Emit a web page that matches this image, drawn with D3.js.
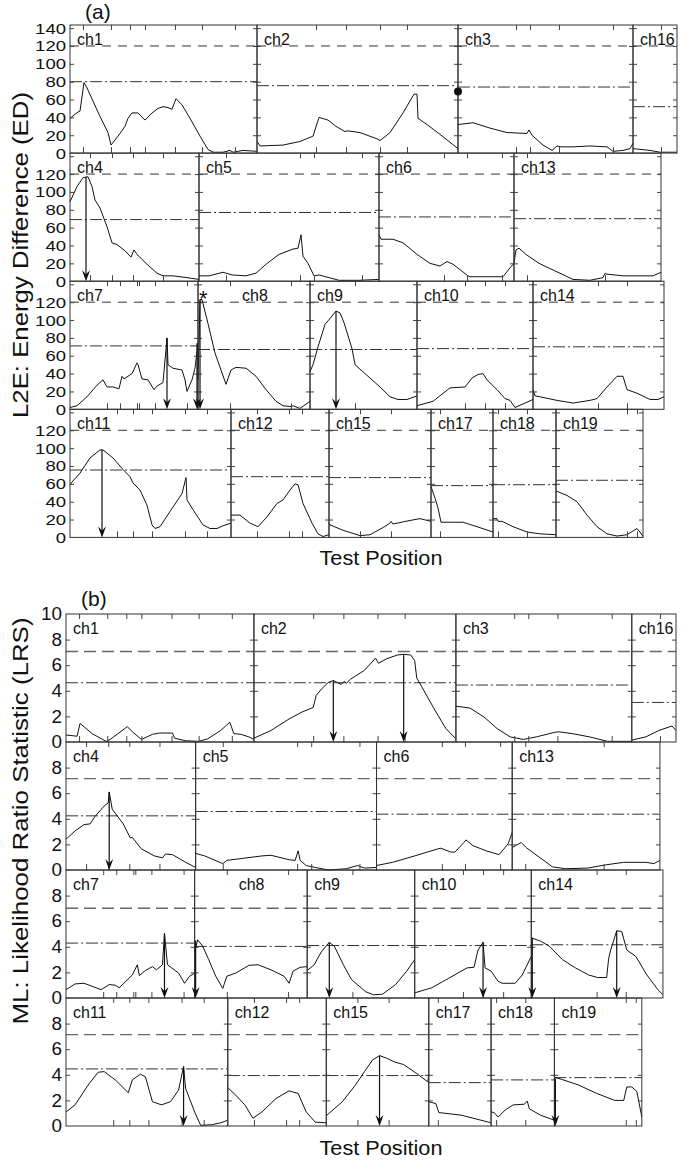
<!DOCTYPE html>
<html>
<head>
<meta charset="utf-8">
<script src="https://cdn.jsdelivr.net/npm/d3@7"></script>
<style>
body { margin: 0; background: #fff; }
svg text { font-family: Arial, "Liberation Sans", sans-serif; fill: #111; }
</style>
</head>
<body>
<script>
// chromosomes in the order they are laid out, row by row
var chromNames = ["ch1","ch2","ch3","ch16","ch4","ch5","ch6","ch13","ch7","ch8","ch9","ch10","ch14","ch11","ch12","ch15","ch17","ch18","ch19"];
var chromLengths = [187,201,175,44,129,180,135,147,128,112,107,116,131,161,98,102,62,63,87];
var rowSizes = [4,4,5,6];
var markerPositions = [[13,41,60,75,105,132,165],[59,89,123,150],[58,72,101,155],[28],[20,42,63,93],[27,101,115,163],[65,88,123],[13,91],[37,50,67,69,85,117],[32,93],[45],[48,68,88],[65,94],[47,63,82,115,137],[26,58,71],[31,62],[9],[5,34],[71,81]];

// tick labels
var edTicksTop = [0,20,40,60,80,100,120,140];
var edTicks = [0,20,40,60,80,100,120];
var lrsTicksTop = [0,2,4,6,8,10];
var lrsTicks = [0,2,4,6,8];

// thresholds (dashed / dash-dot) per chromosome
var edDashed = [120,120,120,120,120,120,120,120,120,120,120,120,120,120,120,120,120,120,120];
var edDashDot = [80,75.5,74,52,69,77,72,70,71,67,67,68,70,75.5,68,67,58,59,64];
var lrsDashed = [7.07,7.07,7.07,7.07,7.14,7.14,7.14,7.14,7.01,7.01,7.01,7.01,7.01,7.14,7.14,7.14,7.14,7.14,7.14];
var lrsDashDot = [4.63,4.63,4.45,3.09,4.23,4.57,4.36,4.36,4.29,4.03,4.1,4.1,4.16,4.46,3.94,3.94,3.39,3.6,3.78];

// (a) L2E energy difference curves: [position, ED]
var edCh1 = [[0,39],[8,46],[10,47],[14,79],[17,73],[30,41],[38,23],[41,9],[48,19],[55,30],[58,39],[62,45],[68,45],[75,37],[82,45],[88,50],[93,52],[98,51],[102,49],[106,61],[112,54],[120,39],[130,19],[138,4],[143,1],[153,1],[160,3],[163,1],[173,3],[187,2]];
var edCh2 = [[0,13],[3,8],[26,9],[43,13],[56,19],[62,40],[71,37],[79,30],[88,24],[90,25],[103,23],[120,16],[123,14],[133,23],[146,45],[157,66],[160,66],[161,39],[170,32],[183,21],[201,5]];
var edCh3 = [[0,32],[15,34],[32,28],[49,23],[69,22],[71,26],[74,20],[85,9],[94,3],[99,8],[103,7],[115,7],[132,8],[149,7],[155,2],[165,3],[172,5],[175,11]];
var edCh16 = [[0,5],[17,3],[27,1],[44,1]];
var edCh4 = [[0,89],[7,106],[13,116],[18,117],[22,106],[25,91],[30,82],[37,61],[42,43],[47,41],[55,34],[61,27],[64,35],[67,30],[77,19],[87,9],[93,6],[103,6],[117,4],[129,2]];
var edCh5 = [[0,6],[10,6],[24,10],[33,7],[47,6],[57,9],[67,19],[80,30],[94,36],[99,37],[102,52],[104,28],[109,20],[115,6],[120,7],[130,4],[140,1],[160,1],[180,2]];
var edCh6 = [[0,52],[2,47],[14,47],[24,43],[38,30],[51,20],[61,17],[68,22],[74,19],[89,6],[91,5],[108,5],[124,5],[131,15],[135,20]];
var edCh13 = [[0,20],[2,35],[5,37],[12,30],[25,20],[42,11],[59,2],[76,1],[89,4],[91,9],[92,8],[109,6],[126,6],[139,6],[147,10]];
var edCh7 = [[0,2],[7,4],[17,14],[27,27],[33,33],[37,25],[43,25],[49,23],[52,37],[54,34],[62,40],[67,52],[68,50],[72,34],[78,33],[84,22],[87,26],[93,30],[97,80],[98,50],[103,46],[112,44],[115,33],[117,20],[122,33],[125,46],[128,74]];
var edCh8 = [[0,33],[2,123],[4,123],[10,96],[17,63],[23,44],[28,28],[33,44],[38,47],[48,46],[58,37],[68,22],[78,9],[85,4],[93,3],[95,4],[102,1],[107,5],[112,9]];
var edCh9 = [[0,42],[3,50],[8,70],[15,95],[26,110],[30,108],[34,97],[42,68],[45,50],[57,38],[70,25],[80,14],[88,11],[97,11],[107,15]];
var edCh10 = [[0,4],[16,9],[33,24],[48,25],[55,35],[61,39],[66,40],[70,33],[80,22],[88,12],[93,10],[98,2],[106,6],[116,11]];
var edCh14 = [[0,22],[2,15],[7,14],[24,10],[40,7],[57,10],[64,12],[74,25],[84,37],[90,37],[94,22],[104,18],[117,11],[125,11],[131,14]];
var edCh11 = [[0,59],[2,62],[10,72],[20,89],[30,98],[33,98],[43,89],[53,76],[60,68],[63,61],[70,53],[77,36],[82,14],[85,10],[90,12],[100,29],[112,49],[116,67],[117,42],[123,31],[133,14],[140,10],[147,10],[153,13],[161,16]];
var edCh12 = [[0,25],[9,25],[19,16],[27,12],[36,23],[46,38],[52,42],[59,53],[64,60],[67,59],[72,38],[81,16],[87,4],[92,1],[98,3]];
var edCh15 = [[0,16],[1,14],[14,8],[31,2],[41,3],[54,11],[61,16],[62,18],[64,15],[81,19],[91,21],[102,18]];
var edCh17 = [[0,57],[4,44],[7,33],[10,17],[12,17],[32,17],[46,12],[62,6]];
var edCh18 = [[0,21],[4,21],[5,18],[9,18],[20,12],[34,6],[47,4],[63,3]];
var edCh19 = [[0,52],[11,47],[21,40],[31,25],[41,12],[51,4],[61,1.5],[71,3],[81,10],[84,6],[87,1]];

// (b) ML likelihood ratio statistic curves: [position, LRS]
var lrsCh1 = [[0,0.55],[11,0.45],[14,1.45],[26,0.65],[40,0.05],[44,0.2],[61,1.2],[66,0.8],[75,0.2],[86,0.6],[93,0.7],[106,0.7],[108,0.3],[119,0.1],[132,0.05],[141,0.25],[154,0.9],[163,1.55],[167,0.65],[174,0.6],[182,0.4],[187,0.2]];
var lrsCh2 = [[0,0.3],[17,0.9],[35,1.8],[48,2.35],[59,2.7],[62,3.65],[68,4.2],[74,4.65],[79,4.8],[83,4.65],[87,4.5],[90,4.75],[92,4.6],[96,4.9],[110,5.6],[121,6.55],[124,6.15],[132,6.5],[143,6.8],[149,6.85],[156,6.8],[160,6.35],[162,5.0],[165,4.6],[180,2.5],[191,1.05],[201,0.25]];
var lrsCh3 = [[0,2.8],[14,2.65],[28,1.95],[41,1.05],[54,0.4],[67,0.2],[80,0.4],[98,0.75],[102,0.8],[116,0.65],[133,0.4],[151,0.05],[175,0.05]];
var lrsCh16 = [[0,0.15],[14,0.4],[27,0.9],[40,1.25],[44,0.9]];
var lrsCh4 = [[0,2.4],[9,3.05],[18,3.55],[24,3.6],[29,4.2],[38,5.0],[42,5.25],[43,6.1],[46,4.75],[57,3.6],[64,2.5],[66,2.55],[75,1.65],[88,1.1],[96,0.95],[99,1.25],[106,1.2],[119,0.6],[129,0.2]];
var lrsCh5 = [[0,1.3],[9,1.1],[27,0.5],[31,0.75],[66,1.1],[75,1.15],[93,0.8],[99,0.75],[102,1.5],[104,0.75],[110,0.35],[119,0.2],[132,0],[150,0.1],[161,0.35],[168,0.15],[180,0.2]];
var lrsCh6 = [[0,0.35],[16,0.6],[38,1.1],[61,1.65],[64,1.7],[74,1.4],[78,1.4],[87,2.15],[89,2.35],[96,1.9],[109,1.5],[122,1.2],[131,2.05],[135,2.95]];
var lrsCh13 = [[0,1.75],[9,2.15],[14,1.75],[27,1.0],[40,0.25],[53,0.1],[75,0.15],[93,0.4],[111,0.6],[133,0.6],[141,0.5],[147,0.75]];
var lrsCh7 = [[0,0.65],[9,1.1],[18,1.15],[35,0.65],[43,1.05],[49,1.0],[53,0.8],[66,1.8],[71,2.6],[73,1.75],[79,2.15],[86,2.45],[90,2.2],[96,2.6],[98,5.05],[101,2.6],[112,1.95],[118,1.15],[123,1.7],[128,1.95]];
var lrsCh8 = [[0,3.6],[3,4.55],[8,4.05],[14,3.0],[21,1.7],[28,0.75],[32,1.7],[41,1.95],[54,2.55],[63,2.6],[76,2.2],[89,1.7],[94,1.15],[98,2.1],[105,2.4],[112,2.45]];
var lrsCh9 = [[0,2.15],[7,2.6],[14,3.6],[22,4.35],[27,4.05],[36,2.6],[44,1.45],[58,0.5],[66,0.25],[75,0.3],[88,1.05],[99,2.1],[107,3.0]];
var lrsCh10 = [[0,0.4],[17,0.8],[34,1.55],[52,2.35],[59,2.4],[63,3.75],[68,4.35],[70,2.35],[76,2.1],[83,1.3],[87,1.15],[100,1.15],[107,1.8],[116,3.25]];
var lrsCh14 = [[0,4.7],[9,4.45],[18,4.05],[31,3.0],[44,2.35],[57,1.8],[66,1.6],[75,1.6],[77,3.1],[79,3.75],[85,5.25],[90,5.2],[95,3.75],[104,3.25],[115,1.8],[126,0.65],[131,0.25]];
var lrsCh11 = [[0,1.1],[9,1.65],[22,3.2],[32,4.2],[38,4.25],[49,3.6],[62,2.6],[66,3.6],[74,4.05],[79,3.85],[86,1.9],[95,1.65],[104,1.9],[112,2.8],[117,4.65],[119,2.95],[128,1.1],[134,0.05],[145,0.1],[154,0.25],[161,0.45]];
var lrsCh12 = [[0,3.0],[8,2.4],[17,1.65],[25,0.6],[34,1.1],[48,2.15],[61,2.75],[65,2.65],[70,2.55],[78,1.1],[87,0.3],[98,0.25]];
var lrsCh15 = [[0,0.8],[16,1.9],[29,3.2],[38,4.25],[46,5.15],[53,5.5],[60,5.3],[68,5.0],[77,4.8],[90,4.1],[101,3.45],[102,4.0]];
var lrsCh17 = [[0,1.9],[7,1.75],[10,1.05],[32,0.85],[62,0.25]];
var lrsCh18 = [[0,1.1],[3,1.05],[7,0.7],[14,1.25],[22,1.65],[33,1.7],[36,1.95],[38,1.35],[49,0.85],[63,0.45]];
var lrsCh19 = [[0,3.8],[7,3.65],[24,3.2],[42,2.55],[60,2.0],[69,2.0],[72,3.05],[77,3.05],[82,2.7],[87,0.7]];

// QTL arrows: [chromosome, position, value at arrow top]
var edArrows = [["ch4",16,117],["ch7",97,80],["ch7",127,74],["ch8",2,123],["ch9",26,110],["ch11",32,98]];
var lrsArrows = [["ch2",79,4.8],["ch2",149,6.85],["ch4",43,6.1],["ch7",98,5.05],["ch8",1,4.5],["ch9",22,4.35],["ch10",68,4.35],["ch14",1,4.7],["ch14",85,5.25],["ch11",117,4.65],["ch15",53,5.5],["ch19",1,3.7]];

var edCurves = [edCh1,edCh2,edCh3,edCh16,edCh4,edCh5,edCh6,edCh13,edCh7,edCh8,edCh9,edCh10,edCh14,edCh11,edCh12,edCh15,edCh17,edCh18,edCh19];
var lrsCurves = [lrsCh1,lrsCh2,lrsCh3,lrsCh16,lrsCh4,lrsCh5,lrsCh6,lrsCh13,lrsCh7,lrsCh8,lrsCh9,lrsCh10,lrsCh14,lrsCh11,lrsCh12,lrsCh15,lrsCh17,lrsCh18,lrsCh19];

var svg = d3.select("body").append("svg")
    .attr("width", 685)
    .attr("height", 1161);

function drawPanel(p) {
    var unit = (p.right - p.left) / d3.sum(chromLengths.slice(0, rowSizes[0]));
    var idx = 0;
    var xScales = {}, yScales = {};

    rowSizes.forEach(function(n, r) {
        var rowTop = p.top + r * p.rowH;
        var y = d3.scaleLinear().domain([0, p.yMax]).range([rowTop + p.rowH, rowTop]);
        var cum = 0;

        for (var k = 0; k < n; k++, idx++) {
            var name = chromNames[idx], len = chromLengths[idx];
            var x = d3.scaleLinear().domain([0, len])
                .range([p.left + cum * unit, p.left + (cum + len) * unit]);
            cum += len;
            xScales[name] = x;
            yScales[name] = y;
            var g = svg.append("g");

            // thresholds
            g.append("line")
                .attr("x1", x(0)).attr("x2", x(len))
                .attr("y1", y(p.dashed[idx])).attr("y2", y(p.dashed[idx]))
                .style("stroke", p.dashColor).style("stroke-width", p.dashWidth)
                .style("stroke-dasharray", p.dashPattern);
            g.append("line")
                .attr("x1", x(0)).attr("x2", x(len))
                .attr("y1", y(p.dashDot[idx])).attr("y2", y(p.dashDot[idx]))
                .style("stroke", "#333").style("stroke-width", 1)
                .style("stroke-dasharray", "12,3,2,3");

            // curve
            g.append("path")
                .datum(p.curves[idx])
                .attr("d", d3.line().x(function(d) { return x(d[0]); }).y(function(d) { return y(d[1]); }))
                .style("fill", "none").style("stroke", "#111").style("stroke-width", 1);

            // inward ticks on the four sides
            var tl = g.append("g").attr("transform", "translate(" + x(0) + ",0)")
                .call(d3.axisLeft(y).tickValues(p.frameTicks).tickSize(-4).tickFormat(""));
            var tr = g.append("g").attr("transform", "translate(" + x(len) + ",0)")
                .call(d3.axisRight(y).tickValues(p.frameTicks).tickSize(-4).tickFormat(""));
            var tb = g.append("g").attr("transform", "translate(0," + y(0) + ")")
                .call(d3.axisBottom(x).tickValues(markerPositions[idx]).tickSize(-6).tickFormat(""));
            var tt = g.append("g").attr("transform", "translate(0," + rowTop + ")")
                .call(d3.axisTop(x).tickValues(markerPositions[idx]).tickSize(-5).tickFormat(""));
            [tl, tr, tb, tt].forEach(function(a) {
                a.select(".domain").remove();
                a.selectAll("line").style("stroke", "#444");
            });

            // frame
            g.append("rect")
                .attr("x", x(0)).attr("y", rowTop)
                .attr("width", x(len) - x(0)).attr("height", p.rowH)
                .style("fill", "none").style("stroke", "#333").style("stroke-width", 1);

            // label
            g.append("text")
                .attr("x", x(0) + (name === "ch8" ? 44 : 7))
                .attr("y", rowTop + 20)
                .style("font-size", "16px")
                .text(name);
        }

        // y labels on the left (slightly widened glyphs, as in the original)
        var ax = svg.append("g").attr("transform", "translate(" + p.left + ",0)")
            .call(d3.axisLeft(y).tickValues(r === 0 ? p.labelsTop : p.labels).tickSize(0).tickPadding(4));
        ax.select(".domain").remove();
        ax.selectAll("text")
            .style("font-size", p.labelSize + "px")
            .style("font-family", "Arial, 'Liberation Sans', sans-serif")
            .style("fill", "#111")
            .attr("textLength", function(d) { return String(d).length * p.digitW; })
            .attr("lengthAdjust", "spacingAndGlyphs");
    });

    // arrows
    p.arrows.forEach(function(a) {
        var x = xScales[a[0]], y = yScales[a[0]];
        var xa = x(a[1]), y0 = y(0);
        svg.append("line")
            .attr("x1", xa).attr("x2", xa)
            .attr("y1", y(a[2])).attr("y2", y0 - 3)
            .style("stroke", "#111").style("stroke-width", 1.2);
        svg.append("path")
            .attr("d", "M" + xa + "," + y0 + "L" + (xa - 4) + "," + (y0 - 11) + "L" + xa + "," + (y0 - 7) + "L" + (xa + 4) + "," + (y0 - 11) + "Z")
            .style("fill", "#111");
    });

    // axis titles
    svg.append("text")
        .attr("transform", "translate(" + p.titleX + "," + p.titleY + ") rotate(-90)")
        .attr("text-anchor", "middle")
        .attr("textLength", p.titleLen).attr("lengthAdjust", "spacingAndGlyphs")
        .style("font-size", "22px")
        .text(p.title);
    svg.append("text")
        .attr("x", 381).attr("y", p.xTitleY)
        .attr("text-anchor", "middle")
        .attr("textLength", 123).attr("lengthAdjust", "spacingAndGlyphs")
        .style("font-size", "20px")
        .text("Test Position");
    svg.append("text")
        .attr("x", p.tagX).attr("y", p.tagY)
        .style("font-size", "21px")
        .text(p.tag);

    return { x: xScales, y: yScales };
}

var pa = drawPanel({
    left: 70, right: 677, top: 25, rowH: 128.1, yMax: 143.5,
    curves: edCurves, dashed: edDashed, dashDot: edDashDot,
    dashColor: "#333", dashWidth: 1, dashPattern: "9,7",
    frameTicks: [20,40,60,80,100,120,140],
    labelsTop: edTicksTop, labels: edTicks, labelSize: 15.5, digitW: 10.3,
    arrows: edArrows,
    title: "L2E: Energy Difference (ED)", titleX: 28, titleY: 255, titleLen: 326,
    xTitleY: 565, tag: "(a)", tagX: 85, tagY: 19
});

drawPanel({
    left: 66, right: 676, top: 614, rowH: 128, yMax: 10,
    curves: lrsCurves, dashed: lrsDashed, dashDot: lrsDashDot,
    dashColor: "#666", dashWidth: 1.4, dashPattern: "12,6",
    frameTicks: [2,4,6,8],
    labelsTop: lrsTicksTop, labels: lrsTicks, labelSize: 18, digitW: 10.5,
    arrows: lrsArrows,
    title: "ML: Likelihood Ratio Statistic (LRS)", titleX: 28, titleY: 821, titleLen: 407,
    xTitleY: 1155, tag: "(b)", tagX: 81, tagY: 606
});

// marks specific to panel (a)
svg.append("text")
    .attr("x", pa.x["ch8"](1)).attr("y", 306)
    .style("font-size", "22px")
    .text("*");
svg.append("circle")
    .attr("cx", pa.x["ch2"](201)).attr("cy", pa.y["ch2"](69))
    .attr("r", 4)
    .style("fill", "#111");
</script>
</body>
</html>
